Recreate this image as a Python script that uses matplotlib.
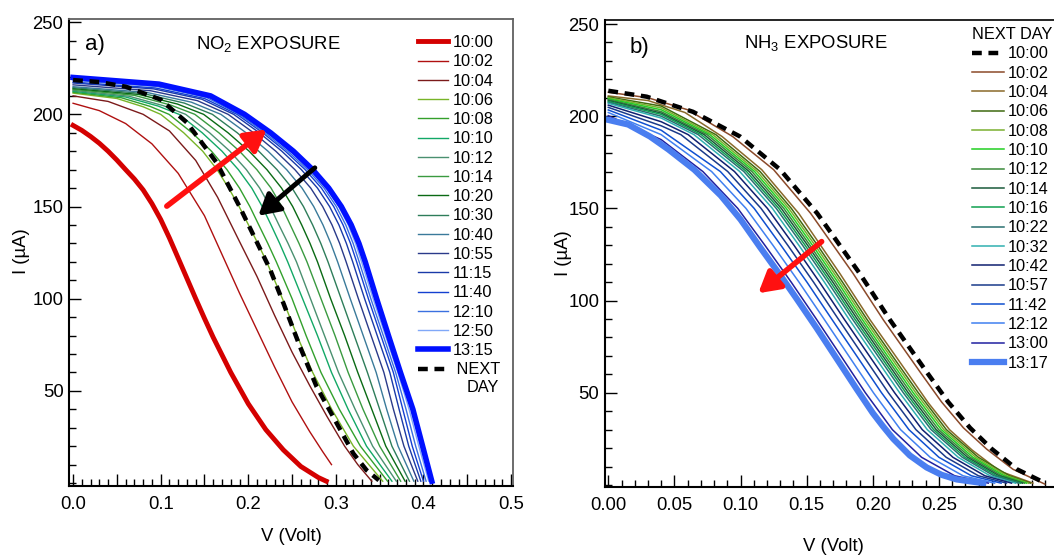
import matplotlib
matplotlib.use("Agg")
import matplotlib.pyplot as plt
from matplotlib.ticker import MultipleLocator

plt.rcParams['font.family'] = ['Liberation Sans', 'DejaVu Sans']
plt.rcParams['mathtext.default'] = 'regular'

# ---------------- panel a : NO2 exposure ----------------
# curves, V (volt) and I (uA)
a_v_1000 = [0, 0.01, 0.02, 0.03, 0.04, 0.05, 0.06, 0.07, 0.08, 0.09, 0.10, 0.11, 0.12, 0.13,
            0.14, 0.15, 0.16, 0.18, 0.20, 0.22, 0.24, 0.26, 0.28, 0.289]
a_i_1000 = [194, 191.3, 188, 184.3, 180, 175.2, 170, 164.9, 159, 151.6, 143, 132.9, 122, 111,
            100, 89.3, 79, 60, 43, 29, 18, 9, 3, 1]
a_v_1002 = [0, 0.03, 0.06, 0.09, 0.12, 0.15, 0.17, 0.19, 0.21, 0.23, 0.25, 0.27, 0.285, 0.295]
a_i_1002 = [206, 202, 195, 184, 168, 145, 124, 103, 83, 63, 44, 28, 17, 10]
a_v_1004 = [0, 0.04, 0.08, 0.11, 0.14, 0.165, 0.19, 0.21, 0.23, 0.25, 0.27, 0.29, 0.31, 0.325, 0.341]
a_i_1004 = [210, 207, 200, 191, 175, 155, 131, 112, 91, 71, 53, 36, 20, 10, 1]
a_v_next = [0, 0.03, 0.06, 0.10, 0.13, 0.164, 0.19, 0.225, 0.24, 0.259, 0.278, 0.301, 0.32, 0.335, 0.349]
a_i_next = [218.6, 217.5, 215, 208, 195.5, 173.7, 150, 115.8, 97.7, 74, 52.3, 32.4, 16, 7, 1.5]

# curves 10:06 .. 13:15: a few points near the top, then V where each crosses these currents
a_levels = [200, 190, 180, 170, 160, 150, 140, 130, 120, 100, 80, 60, 40, 20, 1]
a_fam_times = ['10:06', '10:08', '10:10', '10:12', '10:14', '10:20', '10:30',
               '10:40', '10:55', '11:15', '11:40', '12:10', '12:50', '13:15']
a_fam_top_v = [[0, 0.05, 0.08], [0, 0.055, 0.088], [0, 0.06, 0.097], [0, 0.064, 0.103],
               [0, 0.07, 0.111], [0, 0.075, 0.119], [0, 0.08, 0.127], [0, 0.084, 0.135],
               [0, 0.0885, 0.142], [0, 0.092, 0.147], [0, 0.094, 0.150], [0, 0.095, 0.152],
               [0, 0.096, 0.154], [0, 0.098, 0.157]]
a_fam_top_i = [[211.5, 208.6, 204.1], [212, 209.0, 204.3], [212.5, 209.4, 204.5], [213, 209.8, 204.7],
               [213.5, 210.3, 205.1], [214, 210.8, 205.6], [214.5, 211.3, 206.1], [215, 211.9, 206.6],
               [216, 212.8, 207.4], [217, 213.8, 208.2], [217.5, 214.3, 208.6], [218.5, 215.2, 209.25],
               [219, 215.6, 209.5], [220, 216.4, 210.0]]
a_fam_cross = [
    [0.100, 0.1263, 0.148, 0.1644, 0.1776, 0.1895, 0.2003, 0.2109, 0.221, 0.239, 0.2557, 0.2735, 0.2953, 0.320, 0.3535],
    [0.1095, 0.1358, 0.158, 0.1757, 0.190, 0.2018, 0.212, 0.2223, 0.232, 0.250, 0.266, 0.283, 0.304, 0.328, 0.359],
    [0.121, 0.1474, 0.170, 0.1887, 0.204, 0.2159, 0.226, 0.2358, 0.245, 0.262, 0.279, 0.295, 0.314, 0.335, 0.364],
    [0.1285, 0.1558, 0.179, 0.1978, 0.213, 0.2249, 0.235, 0.2454, 0.255, 0.271, 0.287, 0.303, 0.322, 0.342, 0.369],
    [0.139, 0.1664, 0.190, 0.2098, 0.226, 0.2381, 0.248, 0.2579, 0.267, 0.283, 0.299, 0.314, 0.331, 0.350, 0.374],
    [0.149, 0.1769, 0.201, 0.2213, 0.238, 0.2507, 0.261, 0.2705, 0.279, 0.294, 0.310, 0.325, 0.341, 0.357, 0.379],
    [0.159, 0.1874, 0.212, 0.2328, 0.250, 0.2630, 0.2735, 0.2828, 0.291, 0.306, 0.321, 0.336, 0.350, 0.364, 0.384],
    [0.1687, 0.1975, 0.2225, 0.2438, 0.2614, 0.2747, 0.2853, 0.2942, 0.302, 0.3164, 0.3312, 0.346, 0.358, 0.371, 0.389],
    [0.177, 0.2060, 0.2314, 0.2532, 0.2713, 0.2849, 0.2956, 0.3043, 0.3117, 0.3257, 0.3402, 0.3548, 0.3657, 0.3777, 0.3935],
    [0.1833, 0.2126, 0.2383, 0.2606, 0.279, 0.2928, 0.3035, 0.3120, 0.3192, 0.3328, 0.3472, 0.3616, 0.3722, 0.3832, 0.397],
    [0.1871, 0.2165, 0.2424, 0.2649, 0.2835, 0.2975, 0.3082, 0.3167, 0.3237, 0.3371, 0.3514, 0.3656, 0.3764, 0.3872, 0.400],
    [0.1896, 0.2191, 0.2451, 0.2677, 0.2865, 0.3005, 0.3113, 0.3197, 0.3266, 0.3399, 0.3541, 0.3682, 0.3801, 0.3911, 0.403],
    [0.1919, 0.2215, 0.2476, 0.2703, 0.2892, 0.3033, 0.3141, 0.3224, 0.3293, 0.3425, 0.3566, 0.3707, 0.3836, 0.3947, 0.406],
    [0.1957, 0.2255, 0.2515, 0.2735, 0.2918, 0.3062, 0.3175, 0.3263, 0.3335, 0.3465, 0.360, 0.3737, 0.3879, 0.399, 0.4095],
]
a_fam_colors = ['#78b428', '#33a02c', '#12a866', '#4a9070', '#3a9a40', '#0a6a14', '#2e7d5a',
                '#3a7a9a', '#2a3a8a', '#1a3aa8', '#1440d0', '#3a70e0', '#80a8f8', '#0010ff']

# ---------------- panel b : NH3 exposure ----------------
b_v_next = [0, 0.029, 0.064, 0.0996, 0.13, 0.158, 0.19, 0.213, 0.241, 0.257, 0.2735, 0.29, 0.309, 0.329]
b_i_next = [213.8, 210.6, 202.4, 189, 171, 147.3, 114.8, 89.5, 61, 45, 31, 19.5, 8.5, 1.5]
b_v_1002 = [0, 0.03, 0.06, 0.094, 0.125, 0.153, 0.185, 0.208, 0.236, 0.252, 0.2685, 0.286, 0.306, 0.330]
b_i_1002 = [213, 210, 203.5, 189, 171, 147.3, 114.8, 89.5, 61, 45, 31, 19.5, 8.5, 0.5]
b_v_1004 = [0, 0.03, 0.058, 0.086, 0.116, 0.144, 0.175, 0.198, 0.225, 0.242, 0.258, 0.275, 0.296, 0.321]
b_i_1004 = [211, 208.5, 202, 189, 171, 147.3, 114.8, 89.5, 62, 44.5, 30, 19, 7.5, 1]
b_v_1317 = [0, 0.015, 0.0315, 0.0454, 0.065, 0.085, 0.1, 0.1147, 0.1298, 0.1424, 0.1576,
            0.175, 0.1878, 0.2, 0.2075, 0.2155, 0.228, 0.2407, 0.252, 0.2634, 0.2835]
b_i_1317 = [198, 195.5, 189, 182, 171, 157, 144, 129, 114, 101, 85,
            66, 52, 39, 32, 25, 16, 9.5, 5.5, 3, 1]

b_levels = [170, 150, 130, 110, 90, 70, 50, 30, 15, 5, 1]
b_fam_times = ['10:06', '10:08', '10:10', '10:12', '10:14', '10:16', '10:22',
               '10:32', '10:42', '10:57', '11:42', '12:12', '13:00']
b_fam_top_v = [[0, 0.04, 0.0813], [0, 0.04, 0.079], [0, 0.04, 0.0768], [0, 0.04, 0.0747],
               [0, 0.04, 0.0725], [0, 0.04, 0.0703], [0, 0.04, 0.068], [0, 0.04, 0.0648],
               [0, 0.04, 0.0604], [0, 0.04, 0.0549], [0, 0.04], [0, 0.04], [0, 0.04]]
b_fam_top_i = [[210.5, 205.5, 190], [210, 204.5, 190], [209.5, 203.5, 190], [209, 202.5, 190],
               [208.5, 201.7, 190], [208, 201, 190], [207.5, 200, 190], [207, 199, 190],
               [206, 197, 190], [204.8, 194.8, 190], [203.4, 192.4], [202, 190], [200.3, 187.3]]
b_fam_cross = [
    [0.1147, 0.1384, 0.1582, 0.1771, 0.1954, 0.2148, 0.2344, 0.2556, 0.2798, 0.3032, 0.3191],
    [0.1126, 0.1365, 0.1563, 0.1753, 0.1936, 0.2130, 0.2325, 0.2537, 0.2778, 0.3012, 0.3176],
    [0.1106, 0.1346, 0.1544, 0.1735, 0.1918, 0.2111, 0.2306, 0.2518, 0.2757, 0.2993, 0.3161],
    [0.1086, 0.1327, 0.1525, 0.1716, 0.1900, 0.2093, 0.2287, 0.2498, 0.2737, 0.2973, 0.3146],
    [0.1065, 0.1308, 0.1507, 0.1698, 0.1882, 0.2075, 0.2268, 0.2479, 0.2717, 0.2954, 0.3131],
    [0.1045, 0.1289, 0.1488, 0.1680, 0.1864, 0.2057, 0.2250, 0.2460, 0.2697, 0.2935, 0.3116],
    [0.1025, 0.1270, 0.1469, 0.1661, 0.1846, 0.2038, 0.2231, 0.2441, 0.2677, 0.2915, 0.3101],
    [0.0994, 0.1241, 0.1441, 0.1634, 0.1819, 0.2011, 0.2203, 0.2412, 0.2646, 0.2886, 0.3079],
    [0.0954, 0.1203, 0.1404, 0.1597, 0.1783, 0.1974, 0.2165, 0.2374, 0.2606, 0.2847, 0.3049],
    [0.0903, 0.1155, 0.1357, 0.1552, 0.1739, 0.1928, 0.2118, 0.2326, 0.2555, 0.2798, 0.3011],
    [0.0847, 0.1103, 0.1305, 0.1502, 0.1689, 0.1878, 0.2066, 0.2273, 0.2500, 0.2745, 0.2970],
    [0.0781, 0.1041, 0.1245, 0.1442, 0.1631, 0.1818, 0.2005, 0.2210, 0.2434, 0.2682, 0.2921],
    [0.0715, 0.0979, 0.1184, 0.1383, 0.1573, 0.1759, 0.1944, 0.2148, 0.2369, 0.2619, 0.2873],
]
b_fam_colors = ['#3f6a10', '#7ab030', '#22d022', '#3a8a3a', '#1a5a3a', '#10a050', '#2a7070',
                '#30b0b0', '#102070', '#1a3a8a', '#1050d0', '#4080f0', '#2020a0']

FS = 13.3
LFS = 11.8

fig = plt.figure(figsize=(10.54, 5.56), dpi=100)
ax1 = fig.add_axes([0.0655, 0.1259, 0.4213, 0.8399])
ax2 = fig.add_axes([0.5740, 0.1241, 0.4260, 0.8400])

# panel a lines
ax1.plot(a_v_1000, a_i_1000, color='#d40000', lw=3.5, label='10:00')
ax1.plot(a_v_1002, a_i_1002, color='#b01010', lw=1.0, label='10:02')
ax1.plot(a_v_1004, a_i_1004, color='#7b1a1a', lw=1.0, label='10:04')
for k in range(len(a_fam_times)):
    v = a_fam_top_v[k] + a_fam_cross[k]
    i = a_fam_top_i[k] + a_levels
    lw = 4.0 if a_fam_times[k] == '13:15' else 1.0
    ax1.plot(v, i, color=a_fam_colors[k], lw=lw, label=a_fam_times[k])
ax1.plot(a_v_next, a_i_next, color='black', lw=3.2, dashes=(2.2, 1.5),
         label=' NEXT', zorder=5)

# panel b lines
ax2.plot(b_v_next, b_i_next, color='black', lw=3.2, dashes=(2.2, 1.5), label='10:00', zorder=5)
ax2.plot(b_v_1002, b_i_1002, color='#8b4a2a', lw=1.1, label='10:02')
ax2.plot(b_v_1004, b_i_1004, color='#8a6a2a', lw=1.1, label='10:04')
for k in range(len(b_fam_times)):
    v = b_fam_top_v[k] + b_fam_cross[k]
    i = b_fam_top_i[k] + b_levels
    ax2.plot(v, i, color=b_fam_colors[k], lw=1.1, label=b_fam_times[k])
ax2.plot(b_v_1317, b_i_1317, color='#4a7ef0', lw=4.5, label='13:17')

# arrows
arr = dict(arrowstyle='-|>,head_length=0.7,head_width=0.4', lw=4, color='#ff1010',
           shrinkA=0, shrinkB=0, mutation_scale=18)
ax1.annotate('', xy=(0.221, 191.8), xytext=(0.107, 150.2), arrowprops=arr, zorder=6)
arr_k = dict(arr, color='black', lw=3.5)
ax1.annotate('', xy=(0.2115, 145), xytext=(0.276, 171), arrowprops=arr_k, zorder=6)
ax2.annotate('', xy=(0.1134, 104), xytext=(0.1613, 132), arrowprops=arr, zorder=6)

# labels inside panels
ax1.text(0.0137, 238, 'a)', fontsize=16, ha='left', va='center')
ax1.text(0.223, 238, 'NO$_2$ EXPOSURE', fontsize=FS, ha='center', va='center')
ax2.text(0.0159, 237, 'b)', fontsize=16, ha='left', va='center')
ax2.text(0.1567, 239.7, 'NH$_3$ EXPOSURE', fontsize=FS, ha='center', va='center')

# axes styling
for ax in (ax1, ax2):
    ax.yaxis.set_major_locator(MultipleLocator(50))
    ax.yaxis.set_minor_locator(MultipleLocator(10))
    ax.xaxis.set_minor_locator(MultipleLocator(0.01))
    ax.tick_params(which='major', direction='in', length=8.5, width=1.0, labelsize=FS)
    ax.tick_params(which='minor', direction='in', length=5, width=1.0)
    ax.tick_params(axis='x', pad=7)
    ax.tick_params(axis='y', pad=4)
    for s in ('left', 'bottom'):
        ax.spines[s].set_linewidth(1.5)
    ax.set_ylabel('I (µA)', fontsize=FS)

ax1.set_xlim(-0.0046, 0.5023)
ax1.set_ylim(-1.6, 251.7)
ax1.set_xticks([0, 0.05, 0.1, 0.15, 0.2, 0.25, 0.3, 0.35, 0.4, 0.45, 0.5])
ax1.set_xticklabels(['0.0', '', '0.1', '', '0.2', '', '0.3', '', '0.4', '', '0.5'])
ax1.set_yticks([50, 100, 150, 200, 250])
for s in ('top', 'right'):
    ax1.spines[s].set_color('#606060')
    ax1.spines[s].set_linewidth(1.3)

ax2.set_xlim(-0.0025, 0.337)
ax2.set_ylim(-1.1, 252.2)
ax2.set_xticks([0, 0.05, 0.1, 0.15, 0.2, 0.25, 0.3])
ax2.set_xticklabels(['0.00', '0.05', '0.10', '0.15', '0.20', '0.25', '0.30'])
ax2.set_yticks([50, 100, 150, 200, 250])
ax2.spines['right'].set_visible(False)
ax2.spines['top'].set_linewidth(1.2)

ax1.set_xlabel('V (Volt)', fontsize=FS, va='center')
ax1.xaxis.set_label_coords(0.50, -0.109)
ax1.yaxis.set_label_coords(-0.087, 0.503)
ax2.set_xlabel('V (Volt)', fontsize=FS, va='center')
ax2.xaxis.set_label_coords(0.508, -0.128)
ax2.yaxis.set_label_coords(-0.0735, 0.50)

# legends
ax1.legend(loc='upper left', bbox_to_anchor=(418 / 1054, 1 - 35 / 556),
           bbox_transform=fig.transFigure, frameon=False, fontsize=LFS,
           borderpad=0, borderaxespad=0, handlelength=1.85, handletextpad=0.25,
           labelspacing=0.26)
fig.text(467 / 1054, 1 - 388 / 556, 'DAY', fontsize=LFS, ha='left', va='center')
ax2.legend(loc='upper left', bbox_to_anchor=(972 / 1054, 1 - 27 / 556),
           bbox_transform=fig.transFigure, frameon=False, fontsize=LFS,
           title='NEXT DAY', title_fontsize=LFS, alignment='left',
           borderpad=0, borderaxespad=0, handlelength=1.95, handletextpad=0.25,
           labelspacing=0.265)

fig.savefig('out.png', dpi=100)
